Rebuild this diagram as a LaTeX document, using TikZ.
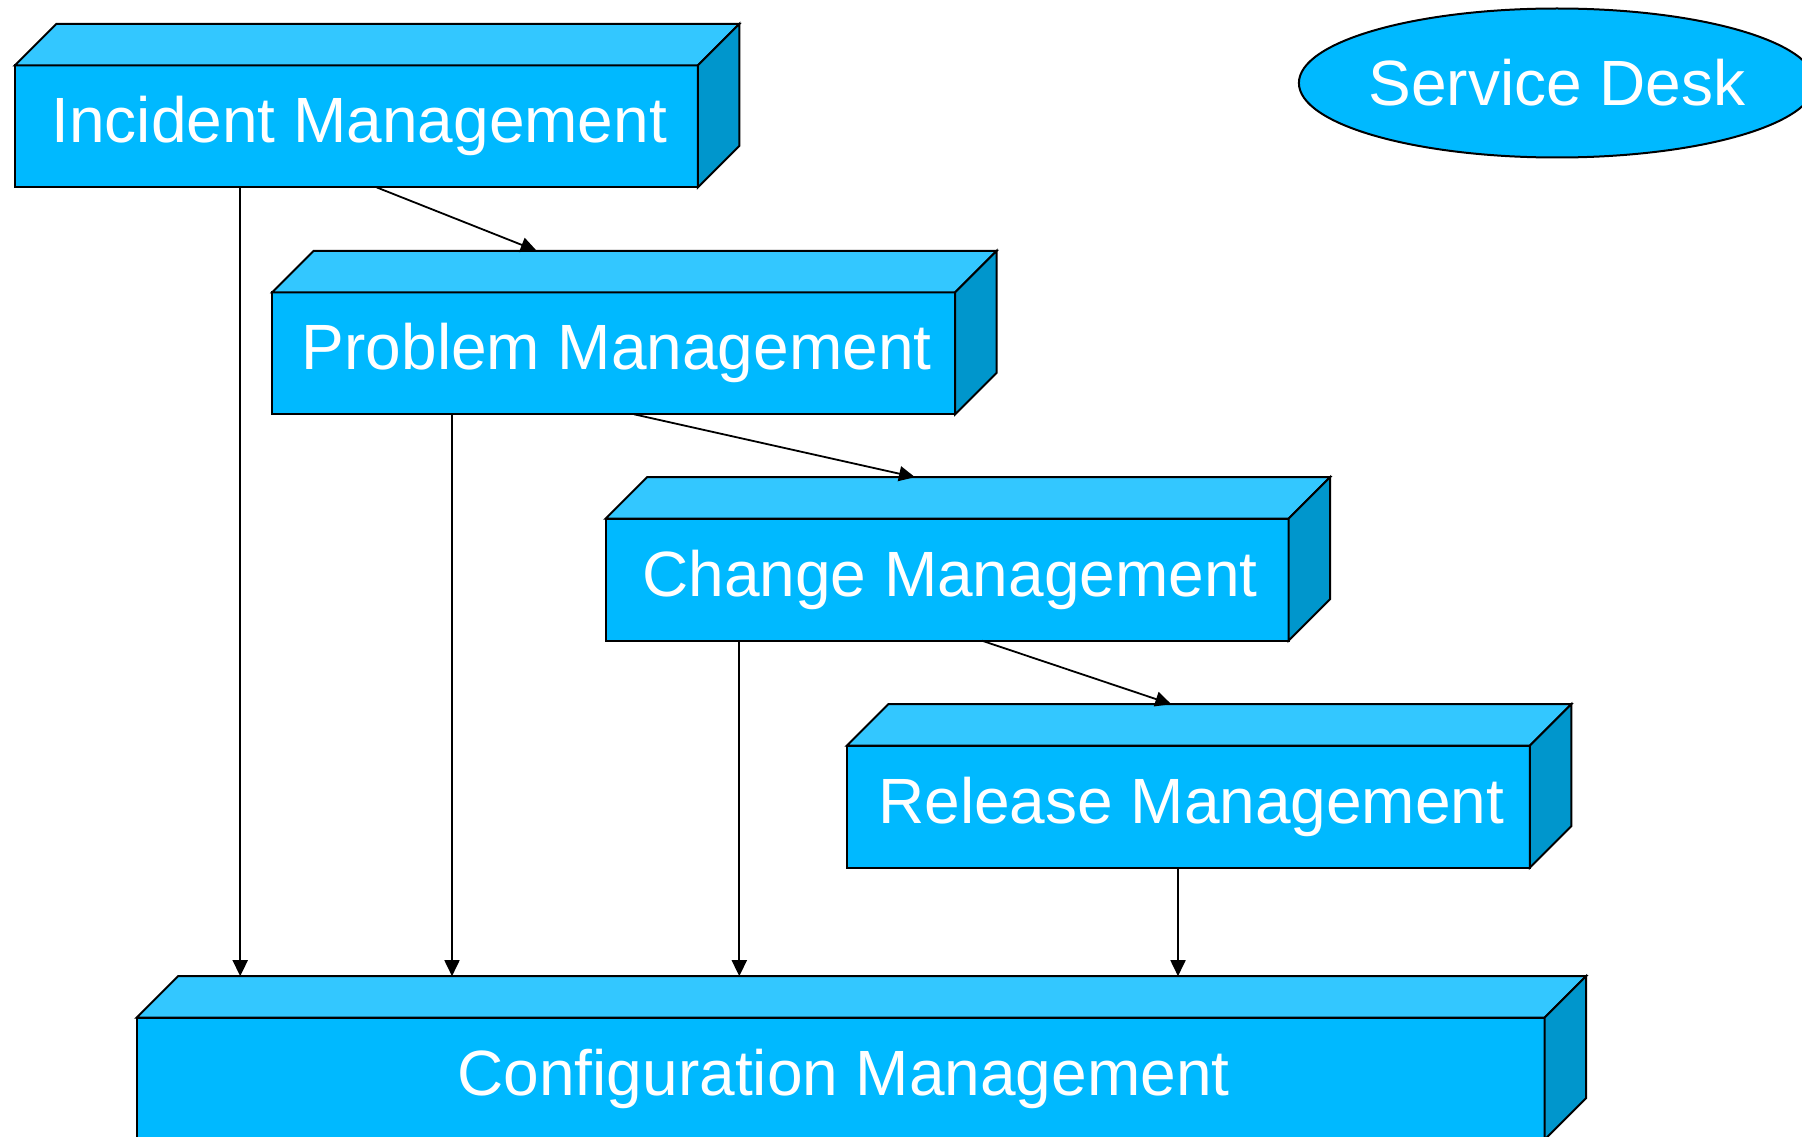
\documentclass[tikz,border=0pt]{standalone}
\usepackage{fontspec}
\setmainfont{Liberation Sans}
\usetikzlibrary{calc,arrows.meta,shapes.geometric}
\definecolor{frontc}{RGB}{0,185,255}
\definecolor{topc}{RGB}{51,199,255}
\definecolor{sidec}{RGB}{0,150,204}
\newcommand\dep{41.5}
\newcommand\mycuboid[1]{%
  \filldraw[face,fill=topc] (#1.north west) -- ($(#1.north west)+(\dep,-\dep)$) -- ($(#1.north east)+(\dep,-\dep)$) -- (#1.north east) -- cycle;
  \filldraw[face,fill=sidec] (#1.north east) -- ($(#1.north east)+(\dep,-\dep)$) -- ($(#1.south east)+(\dep,-\dep)$) -- (#1.south east) -- cycle;}
\tikzset{
  face/.style={draw=black,line width=2pt,line join=miter},
  boxnode/.style={draw=black,line width=2pt,fill=frontc,minimum width=683pt,minimum height=122pt,inner sep=0pt,outer sep=0pt,anchor=north west,text=white,font=\fontsize{64}{64}\selectfont},
  conn/.style={draw=black,line width=1.8pt,-{Triangle[length=16pt,width=15pt]}},
}
\newcommand\boxtext[1]{\hspace*{6pt}#1}
\begin{document}
\begin{tikzpicture}[x=1pt,y=-1pt]
\useasboundingbox (0,0) rectangle (1802,1137);
\clip (0,0) rectangle (1802,1137);
\fill[white] (0,0) rectangle (1802,1137);
% boxes
\node[boxnode] (inc) at (14.8,65.4) {\boxtext{Incident Management}};
\mycuboid{inc}
\node[boxnode] (prob) at (272.2,292.3) {\boxtext{Problem Management}};
\mycuboid{prob}
\node[boxnode] (chg) at (605.5,518.7) {\boxtext{Change Management}};
\mycuboid{chg}
\node[boxnode] (rel) at (846.8,745.7) {\boxtext{Release Management}};
\mycuboid{rel}
\node[boxnode,minimum width=1408pt] (conf) at (136.6,1017.7) {\boxtext{Configuration Management}};
\mycuboid{conf}
% service desk
\node[ellipse,draw=black,line width=2pt,fill=frontc,minimum width=514pt,minimum height=149pt,inner xsep=-6pt,inner ysep=0pt,text=white,font=\fontsize{64}{64}\selectfont] (sd) at (1557,83) {Service Desk};
% connector end points
\coordinate (conftop) at ($(conf.north)+(0,-\dep)$);
% diagonal arrows
\draw[conn] ($(inc.south west)+(361.9,0)$) -- ($(prob.north west)+(264.5,-\dep)$);
\draw[conn] ($(prob.south west)+(361.9,0)$) -- ($(chg.north west)+(309.5,-\dep)$);
\draw[conn] ($(chg.south west)+(376.5,0)$) -- ($(rel.north west)+(324.5,-\dep)$);
% vertical arrows
\draw[conn] ($(inc.south west)+(225.4,0)$) coordinate (a1) -- (a1 |- conftop);
\draw[conn] ($(prob.south west)+(179.8,0)$) coordinate (a2) -- (a2 |- conftop);
\draw[conn] ($(chg.south west)+(133.8,0)$) coordinate (a3) -- (a3 |- conftop);
\draw[conn] ($(rel.south west)+(331.2,0)$) coordinate (a4) -- (a4 |- conftop);
\end{tikzpicture}
\end{document}
